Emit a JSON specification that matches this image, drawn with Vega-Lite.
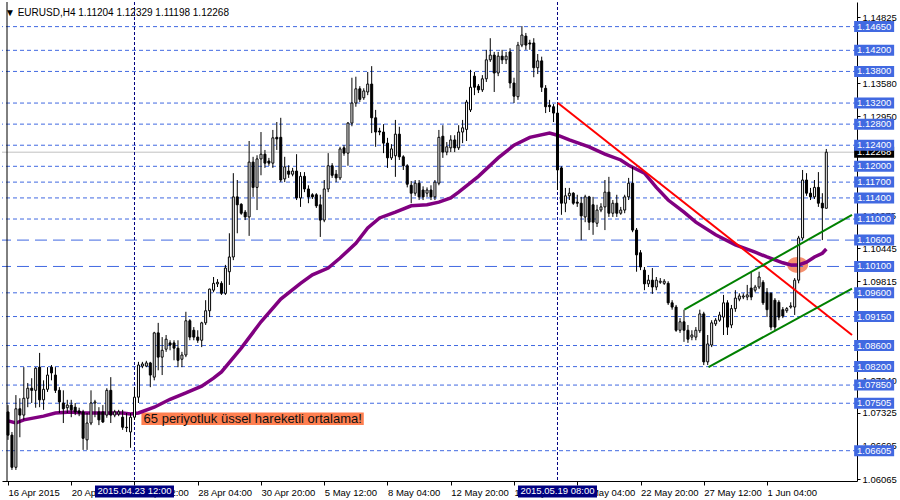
{
"$schema": "https://vega.github.io/schema/vega-lite/v6.json",
"width": 855, "height": 479,
"autosize": "none",
"padding": {"left": 2, "top": 2, "right": 43, "bottom": 19},
"background": "#ffffff",
"config": {"view": {"stroke": null}, "font": "Liberation Sans"},
"title": {"text": "▼   EURUSD,H4  1.11204 1.12329 1.11198 1.12268", "anchor": "start", "frame": "group", "orient": "top", "offset": -14, "dx": 3, "dy": 12, "baseline": "bottom", "font": "Liberation Sans", "fontSize": 10, "fontWeight": "normal", "color": "#000"},
"datasets": {
"candles": [
{"i":0,"o":1.0734,"h":1.0747,"l":1.0681,"c":1.0690},
{"i":1,"o":1.0690,"h":1.0696,"l":1.0624,"c":1.0629},
{"i":2,"o":1.0629,"h":1.0766,"l":1.0624,"c":1.0740},
{"i":3,"o":1.0740,"h":1.0760,"l":1.0686,"c":1.0728},
{"i":4,"o":1.0728,"h":1.0819,"l":1.0719,"c":1.0760},
{"i":5,"o":1.0760,"h":1.0789,"l":1.0743,"c":1.0779},
{"i":6,"o":1.0779,"h":1.0798,"l":1.0751,"c":1.0775},
{"i":7,"o":1.0775,"h":1.0819,"l":1.0742,"c":1.0817},
{"i":8,"o":1.0819,"h":1.0846,"l":1.0743,"c":1.0757},
{"i":9,"o":1.0757,"h":1.0794,"l":1.0738,"c":1.0777},
{"i":10,"o":1.0777,"h":1.0819,"l":1.0772,"c":1.0804},
{"i":11,"o":1.0819,"h":1.0823,"l":1.0794,"c":1.0808},
{"i":12,"o":1.0804,"h":1.0819,"l":1.0770,"c":1.0775},
{"i":13,"o":1.0775,"h":1.0781,"l":1.0732,"c":1.0753},
{"i":14,"o":1.0751,"h":1.0775,"l":1.0713,"c":1.0740},
{"i":15,"o":1.0742,"h":1.0757,"l":1.0732,"c":1.0747},
{"i":16,"o":1.0747,"h":1.0757,"l":1.0724,"c":1.0738},
{"i":17,"o":1.0743,"h":1.0751,"l":1.0728,"c":1.0734},
{"i":18,"o":1.0736,"h":1.0742,"l":1.0726,"c":1.0732},
{"i":19,"o":1.0734,"h":1.0738,"l":1.0662,"c":1.0684},
{"i":20,"o":1.0681,"h":1.0732,"l":1.0662,"c":1.0713},
{"i":21,"o":1.0713,"h":1.0775,"l":1.0709,"c":1.0751},
{"i":22,"o":1.0751,"h":1.0757,"l":1.0724,"c":1.0753},
{"i":23,"o":1.0734,"h":1.0743,"l":1.0709,"c":1.0719},
{"i":24,"o":1.0734,"h":1.0747,"l":1.0713,"c":1.0715},
{"i":25,"o":1.0728,"h":1.0779,"l":1.0723,"c":1.0775},
{"i":26,"o":1.0775,"h":1.0800,"l":1.0713,"c":1.0728},
{"i":27,"o":1.0728,"h":1.0738,"l":1.0724,"c":1.0734},
{"i":28,"o":1.0730,"h":1.0738,"l":1.0726,"c":1.0734},
{"i":29,"o":1.0724,"h":1.0738,"l":1.0700,"c":1.0705},
{"i":30,"o":1.0705,"h":1.0732,"l":1.0696,"c":1.0704},
{"i":31,"o":1.0696,"h":1.0732,"l":1.0666,"c":1.0724},
{"i":32,"o":1.0724,"h":1.0781,"l":1.0719,"c":1.0762},
{"i":33,"o":1.0762,"h":1.0829,"l":1.0751,"c":1.0823},
{"i":34,"o":1.0821,"h":1.0829,"l":1.0817,"c":1.0825},
{"i":35,"o":1.0821,"h":1.0831,"l":1.0819,"c":1.0827},
{"i":36,"o":1.0827,"h":1.0829,"l":1.0781,"c":1.0804},
{"i":37,"o":1.0800,"h":1.0886,"l":1.0794,"c":1.0884},
{"i":38,"o":1.0884,"h":1.0903,"l":1.0813,"c":1.0838},
{"i":39,"o":1.0838,"h":1.0876,"l":1.0804,"c":1.0851},
{"i":40,"o":1.0853,"h":1.0880,"l":1.0848,"c":1.0872},
{"i":41,"o":1.0865,"h":1.0870,"l":1.0851,"c":1.0861},
{"i":42,"o":1.0865,"h":1.0870,"l":1.0832,"c":1.0855},
{"i":43,"o":1.0855,"h":1.0870,"l":1.0819,"c":1.0832},
{"i":44,"o":1.0834,"h":1.0848,"l":1.0819,"c":1.0842},
{"i":45,"o":1.0842,"h":1.0924,"l":1.0838,"c":1.0907},
{"i":46,"o":1.0907,"h":1.0910,"l":1.0870,"c":1.0876},
{"i":47,"o":1.0889,"h":1.0895,"l":1.0870,"c":1.0876},
{"i":48,"o":1.0876,"h":1.0889,"l":1.0865,"c":1.0870},
{"i":49,"o":1.0870,"h":1.0905,"l":1.0857,"c":1.0903},
{"i":50,"o":1.0903,"h":1.0946,"l":1.0899,"c":1.0926},
{"i":51,"o":1.0926,"h":1.0968,"l":1.0914,"c":1.0967},
{"i":52,"o":1.0965,"h":1.0990,"l":1.0961,"c":1.0978},
{"i":53,"o":1.0977,"h":1.0986,"l":1.0971,"c":1.0980},
{"i":54,"o":1.0978,"h":1.0982,"l":1.0956,"c":1.0959},
{"i":55,"o":1.0959,"h":1.1013,"l":1.0956,"c":1.1007},
{"i":56,"o":1.1000,"h":1.1073,"l":1.0975,"c":1.1028},
{"i":57,"o":1.1028,"h":1.1187,"l":1.1022,"c":1.1142},
{"i":58,"o":1.1142,"h":1.1174,"l":1.1073,"c":1.1127},
{"i":59,"o":1.1128,"h":1.1130,"l":1.1108,"c":1.1111},
{"i":60,"o":1.1113,"h":1.1117,"l":1.1098,"c":1.1104},
{"i":61,"o":1.1104,"h":1.1248,"l":1.1068,"c":1.1208},
{"i":62,"o":1.1208,"h":1.1218,"l":1.1142,"c":1.1160},
{"i":63,"o":1.1160,"h":1.1221,"l":1.1117,"c":1.1214},
{"i":64,"o":1.1214,"h":1.1265,"l":1.1183,"c":1.1223},
{"i":65,"o":1.1223,"h":1.1231,"l":1.1197,"c":1.1206},
{"i":66,"o":1.1210,"h":1.1216,"l":1.1201,"c":1.1206},
{"i":67,"o":1.1206,"h":1.1269,"l":1.1197,"c":1.1254},
{"i":68,"o":1.1255,"h":1.1284,"l":1.1231,"c":1.1252},
{"i":69,"o":1.1255,"h":1.1292,"l":1.1170,"c":1.1174},
{"i":70,"o":1.1176,"h":1.1218,"l":1.1170,"c":1.1199},
{"i":71,"o":1.1191,"h":1.1202,"l":1.1178,"c":1.1185},
{"i":72,"o":1.1185,"h":1.1197,"l":1.1181,"c":1.1191},
{"i":73,"o":1.1191,"h":1.1223,"l":1.1136,"c":1.1140},
{"i":74,"o":1.1140,"h":1.1189,"l":1.1123,"c":1.1181},
{"i":75,"o":1.1181,"h":1.1189,"l":1.1151,"c":1.1157},
{"i":76,"o":1.1157,"h":1.1164,"l":1.1130,"c":1.1142},
{"i":77,"o":1.1146,"h":1.1149,"l":1.1138,"c":1.1142},
{"i":78,"o":1.1146,"h":1.1149,"l":1.1121,"c":1.1125},
{"i":79,"o":1.1127,"h":1.1146,"l":1.1066,"c":1.1098},
{"i":80,"o":1.1098,"h":1.1174,"l":1.1094,"c":1.1157},
{"i":81,"o":1.1157,"h":1.1225,"l":1.1151,"c":1.1201},
{"i":82,"o":1.1201,"h":1.1206,"l":1.1178,"c":1.1183},
{"i":83,"o":1.1185,"h":1.1193,"l":1.1170,"c":1.1178},
{"i":84,"o":1.1178,"h":1.1237,"l":1.1174,"c":1.1233},
{"i":85,"o":1.1235,"h":1.1240,"l":1.1220,"c":1.1225},
{"i":86,"o":1.1225,"h":1.1284,"l":1.1201,"c":1.1282},
{"i":87,"o":1.1282,"h":1.1368,"l":1.1276,"c":1.1320},
{"i":88,"o":1.1320,"h":1.1370,"l":1.1313,"c":1.1347},
{"i":89,"o":1.1347,"h":1.1352,"l":1.1322,"c":1.1327},
{"i":90,"o":1.1330,"h":1.1348,"l":1.1326,"c":1.1343},
{"i":91,"o":1.1341,"h":1.1379,"l":1.1335,"c":1.1356},
{"i":92,"o":1.1356,"h":1.1390,"l":1.1263,"c":1.1292},
{"i":93,"o":1.1292,"h":1.1307,"l":1.1237,"c":1.1265},
{"i":94,"o":1.1267,"h":1.1273,"l":1.1259,"c":1.1265},
{"i":95,"o":1.1265,"h":1.1280,"l":1.1225,"c":1.1244},
{"i":96,"o":1.1244,"h":1.1254,"l":1.1197,"c":1.1216},
{"i":97,"o":1.1216,"h":1.1242,"l":1.1212,"c":1.1233},
{"i":98,"o":1.1220,"h":1.1288,"l":1.1180,"c":1.1261},
{"i":99,"o":1.1261,"h":1.1275,"l":1.1212,"c":1.1218},
{"i":100,"o":1.1218,"h":1.1221,"l":1.1193,"c":1.1201},
{"i":101,"o":1.1201,"h":1.1204,"l":1.1160,"c":1.1166},
{"i":102,"o":1.1164,"h":1.1172,"l":1.1130,"c":1.1149},
{"i":103,"o":1.1149,"h":1.1174,"l":1.1144,"c":1.1168},
{"i":104,"o":1.1168,"h":1.1174,"l":1.1136,"c":1.1142},
{"i":105,"o":1.1155,"h":1.1162,"l":1.1136,"c":1.1142},
{"i":106,"o":1.1149,"h":1.1160,"l":1.1142,"c":1.1155},
{"i":107,"o":1.1155,"h":1.1164,"l":1.1136,"c":1.1142},
{"i":108,"o":1.1142,"h":1.1174,"l":1.1136,"c":1.1170},
{"i":109,"o":1.1168,"h":1.1269,"l":1.1164,"c":1.1255},
{"i":110,"o":1.1257,"h":1.1278,"l":1.1216,"c":1.1227},
{"i":111,"o":1.1227,"h":1.1246,"l":1.1221,"c":1.1237},
{"i":112,"o":1.1235,"h":1.1259,"l":1.1227,"c":1.1250},
{"i":113,"o":1.1250,"h":1.1259,"l":1.1227,"c":1.1235},
{"i":114,"o":1.1235,"h":1.1278,"l":1.1231,"c":1.1265},
{"i":115,"o":1.1265,"h":1.1288,"l":1.1244,"c":1.1273},
{"i":116,"o":1.1270,"h":1.1326,"l":1.1248,"c":1.1322},
{"i":117,"o":1.1307,"h":1.1383,"l":1.1303,"c":1.1350},
{"i":118,"o":1.1371,"h":1.1379,"l":1.1335,"c":1.1350},
{"i":119,"o":1.1352,"h":1.1356,"l":1.1339,"c":1.1345},
{"i":120,"o":1.1345,"h":1.1373,"l":1.1341,"c":1.1366},
{"i":121,"o":1.1366,"h":1.1421,"l":1.1360,"c":1.1402},
{"i":122,"o":1.1402,"h":1.1443,"l":1.1398,"c":1.1411},
{"i":123,"o":1.1411,"h":1.1417,"l":1.1341,"c":1.1377},
{"i":124,"o":1.1377,"h":1.1417,"l":1.1371,"c":1.1409},
{"i":125,"o":1.1409,"h":1.1421,"l":1.1394,"c":1.1402},
{"i":126,"o":1.1402,"h":1.1417,"l":1.1394,"c":1.1409},
{"i":127,"o":1.1417,"h":1.1424,"l":1.1348,"c":1.1358},
{"i":128,"o":1.1358,"h":1.1368,"l":1.1320,"c":1.1333},
{"i":129,"o":1.1332,"h":1.1436,"l":1.1326,"c":1.1430},
{"i":130,"o":1.1430,"h":1.1466,"l":1.1426,"c":1.1449},
{"i":131,"o":1.1447,"h":1.1453,"l":1.1421,"c":1.1430},
{"i":132,"o":1.1434,"h":1.1440,"l":1.1421,"c":1.1432},
{"i":133,"o":1.1434,"h":1.1443,"l":1.1369,"c":1.1387},
{"i":134,"o":1.1387,"h":1.1413,"l":1.1375,"c":1.1400},
{"i":135,"o":1.1400,"h":1.1408,"l":1.1341,"c":1.1350},
{"i":136,"o":1.1348,"h":1.1354,"l":1.1301,"c":1.1313},
{"i":137,"o":1.1316,"h":1.1326,"l":1.1303,"c":1.1313},
{"i":138,"o":1.1313,"h":1.1318,"l":1.1284,"c":1.1301},
{"i":139,"o":1.1301,"h":1.1320,"l":1.1155,"c":1.1193},
{"i":140,"o":1.1197,"h":1.1200,"l":1.1108,"c":1.1130},
{"i":141,"o":1.1130,"h":1.1159,"l":1.1113,"c":1.1144},
{"i":142,"o":1.1144,"h":1.1159,"l":1.1136,"c":1.1149},
{"i":143,"o":1.1149,"h":1.1151,"l":1.1127,"c":1.1130},
{"i":144,"o":1.1132,"h":1.1146,"l":1.1123,"c":1.1130},
{"i":145,"o":1.1130,"h":1.1142,"l":1.1060,"c":1.1106},
{"i":146,"o":1.1104,"h":1.1146,"l":1.1094,"c":1.1142},
{"i":147,"o":1.1142,"h":1.1144,"l":1.1079,"c":1.1094},
{"i":148,"o":1.1127,"h":1.1142,"l":1.1070,"c":1.1094},
{"i":149,"o":1.1092,"h":1.1127,"l":1.1085,"c":1.1117},
{"i":150,"o":1.1117,"h":1.1130,"l":1.1113,"c":1.1123},
{"i":151,"o":1.1123,"h":1.1174,"l":1.1079,"c":1.1151},
{"i":152,"o":1.1151,"h":1.1180,"l":1.1104,"c":1.1111},
{"i":153,"o":1.1111,"h":1.1136,"l":1.1104,"c":1.1130},
{"i":154,"o":1.1130,"h":1.1146,"l":1.1104,"c":1.1111},
{"i":155,"o":1.1111,"h":1.1123,"l":1.1108,"c":1.1117},
{"i":156,"o":1.1117,"h":1.1146,"l":1.1111,"c":1.1142},
{"i":157,"o":1.1142,"h":1.1178,"l":1.1136,"c":1.1168},
{"i":158,"o":1.1168,"h":1.1199,"l":1.1075,"c":1.1079},
{"i":159,"o":1.1079,"h":1.1083,"l":1.1000,"c":1.1032},
{"i":160,"o":1.1036,"h":1.1041,"l":1.1003,"c":1.1009},
{"i":161,"o":1.1003,"h":1.1009,"l":1.0965,"c":1.0977},
{"i":162,"o":1.0977,"h":1.0994,"l":1.0971,"c":1.0984},
{"i":163,"o":1.0984,"h":1.1007,"l":1.0958,"c":1.0971},
{"i":164,"o":1.0971,"h":1.0990,"l":1.0965,"c":1.0984},
{"i":165,"o":1.0980,"h":1.0988,"l":1.0977,"c":1.0982},
{"i":166,"o":1.0978,"h":1.0986,"l":1.0975,"c":1.0982},
{"i":167,"o":1.0978,"h":1.0982,"l":1.0937,"c":1.0941},
{"i":168,"o":1.0941,"h":1.0946,"l":1.0928,"c":1.0933},
{"i":169,"o":1.0933,"h":1.0937,"l":1.0886,"c":1.0889},
{"i":170,"o":1.0889,"h":1.0912,"l":1.0884,"c":1.0905},
{"i":171,"o":1.0905,"h":1.0928,"l":1.0867,"c":1.0889},
{"i":172,"o":1.0889,"h":1.0899,"l":1.0865,"c":1.0872},
{"i":173,"o":1.0876,"h":1.0889,"l":1.0870,"c":1.0880},
{"i":174,"o":1.0876,"h":1.0895,"l":1.0870,"c":1.0889},
{"i":175,"o":1.0888,"h":1.0928,"l":1.0884,"c":1.0920},
{"i":176,"o":1.0920,"h":1.0924,"l":1.0823,"c":1.0829},
{"i":177,"o":1.0829,"h":1.0880,"l":1.0823,"c":1.0863},
{"i":178,"o":1.0861,"h":1.0908,"l":1.0857,"c":1.0903},
{"i":179,"o":1.0901,"h":1.0912,"l":1.0897,"c":1.0908},
{"i":180,"o":1.0908,"h":1.0924,"l":1.0905,"c":1.0918},
{"i":181,"o":1.0914,"h":1.0956,"l":1.0880,"c":1.0941},
{"i":182,"o":1.0941,"h":1.0946,"l":1.0880,"c":1.0895},
{"i":183,"o":1.0899,"h":1.0937,"l":1.0893,"c":1.0930},
{"i":184,"o":1.0930,"h":1.0965,"l":1.0924,"c":1.0950},
{"i":185,"o":1.0948,"h":1.0959,"l":1.0944,"c":1.0954},
{"i":186,"o":1.0952,"h":1.0959,"l":1.0948,"c":1.0954},
{"i":187,"o":1.0952,"h":1.0975,"l":1.0946,"c":1.0956},
{"i":188,"o":1.0969,"h":1.1000,"l":1.0946,"c":1.0952},
{"i":189,"o":1.0965,"h":1.0975,"l":1.0961,"c":1.0971},
{"i":190,"o":1.0971,"h":1.1000,"l":1.0967,"c":1.0990},
{"i":191,"o":1.0980,"h":1.0984,"l":1.0937,"c":1.0941},
{"i":192,"o":1.0961,"h":1.0969,"l":1.0914,"c":1.0928},
{"i":193,"o":1.0959,"h":1.0961,"l":1.0889,"c":1.0895},
{"i":194,"o":1.0946,"h":1.0950,"l":1.0889,"c":1.0895},
{"i":195,"o":1.0942,"h":1.0946,"l":1.0908,"c":1.0914},
{"i":196,"o":1.0928,"h":1.0933,"l":1.0912,"c":1.0916},
{"i":197,"o":1.0926,"h":1.0933,"l":1.0922,"c":1.0930},
{"i":198,"o":1.0933,"h":1.0942,"l":1.0930,"c":1.0935},
{"i":199,"o":1.0933,"h":1.0988,"l":1.0918,"c":1.0984},
{"i":200,"o":1.0984,"h":1.1068,"l":1.0978,"c":1.1064},
{"i":201,"o":1.1064,"h":1.1193,"l":1.1060,"c":1.1174},
{"i":202,"o":1.1174,"h":1.1187,"l":1.1144,"c":1.1149},
{"i":203,"o":1.1149,"h":1.1159,"l":1.1136,"c":1.1142},
{"i":204,"o":1.1142,"h":1.1174,"l":1.1138,"c":1.1160},
{"i":205,"o":1.1160,"h":1.1189,"l":1.1123,"c":1.1130},
{"i":206,"o":1.1130,"h":1.1149,"l":1.1060,"c":1.1121},
{"i":207,"o":1.11204,"h":1.12329,"l":1.11198,"c":1.12268}
],
"ema": [
{"i":0,"v":1.0717},{"i":2,"v":1.0713},{"i":4,"v":1.0719},{"i":9,"v":1.0726},{"i":12,"v":1.0732},{"i":16,"v":1.0734},{"i":19,"v":1.0732},{"i":24,"v":1.0732},{"i":29,"v":1.0732},{"i":31,"v":1.0730},{"i":33,"v":1.0732},{"i":37,"v":1.0743},{"i":41,"v":1.0758},{"i":45,"v":1.0770},{"i":49,"v":1.0783},{"i":52,"v":1.0798},{"i":54,"v":1.0810},{"i":59,"v":1.0855},{"i":64,"v":1.0905},{"i":69,"v":1.0948},{"i":74,"v":1.0978},{"i":77,"v":1.0994},{"i":81,"v":1.1007},{"i":84,"v":1.1026},{"i":88,"v":1.1054},{"i":91,"v":1.1083},{"i":94,"v":1.1102},{"i":98,"v":1.1113},{"i":102,"v":1.1125},{"i":106,"v":1.1127},{"i":109,"v":1.1132},{"i":112,"v":1.1140},{"i":114,"v":1.1151},{"i":119,"v":1.1181},{"i":124,"v":1.1216},{"i":128,"v":1.1240},{"i":132,"v":1.1255},{"i":137,"v":1.1263},{"i":139,"v":1.1259},{"i":142,"v":1.1250},{"i":147,"v":1.1237},{"i":151,"v":1.1223},{"i":155,"v":1.1212},{"i":157,"v":1.1202},{"i":161,"v":1.1187},{"i":164,"v":1.1160},{"i":167,"v":1.1136},{"i":171,"v":1.1113},{"i":174,"v":1.1094},{"i":179,"v":1.1070},{"i":184,"v":1.1051},{"i":189,"v":1.1037},{"i":192,"v":1.1028},{"i":196,"v":1.1017},{"i":198,"v":1.1013},{"i":200,"v":1.1013},{"i":202,"v":1.1018},{"i":204,"v":1.1028},{"i":206,"v":1.1035},{"i":207,"v":1.1043}
],
"levels": [
{"p":1.1465},{"p":1.142},{"p":1.138},{"p":1.132},{"p":1.128},{"p":1.124},{"p":1.12},{"p":1.117},{"p":1.114},{"p":1.11},{"p":1.106},{"p":1.101},{"p":1.096},{"p":1.0915},{"p":1.086},{"p":1.082},{"p":1.0785},{"p":1.07505},{"p":1.06605}
],
"trend": [
{"name":"red","i":139.1,"p":1.1320},{"name":"red","i":213.5,"p":1.0880},
{"name":"gu","i":171.1,"p":1.0928},{"name":"gu","i":213.5,"p":1.1108},
{"name":"gl","i":177.2,"p":1.0819},{"name":"gl","i":213.5,"p":1.0968}
],
"cross": [
{"i":32,"label":"2015.04.23 12:00"},{"i":139,"label":"2015.05.19 08:00"}
]
},
"layer": [
{
"data": {"values": [{"k": 1}]},
"mark": {"type": "point", "shape": "M -1 0 A 1 0.75 0 1 1 1 0 A 1 0.75 0 1 1 -1 0 Z", "size": 441, "filled": true, "color": "#f4845f", "opacity": 0.9, "strokeWidth": 0},
"encoding": {
"x": {"datum": 199.75, "type": "quantitative", "scale": {"domain": [-0.25, 213.5], "nice": false, "zero": false}},
"y": {"datum": 1.10128, "type": "quantitative", "scale": {"domain": [1.0603, 1.15117], "nice": false, "zero": false}}
}
},
{
"data": {"name": "levels"},
"transform": [{"filter": "datum.p != 1.106 && datum.p != 1.101"}],
"mark": {"type": "rule", "color": "#4169e1", "strokeWidth": 1, "strokeDash": [4, 3]},
"encoding": {"y": {"field": "p", "type": "quantitative", "title": null}}
},
{
"data": {"name": "levels"},
"transform": [{"filter": "datum.p == 1.106 || datum.p == 1.101"}],
"mark": {"type": "rule", "color": "#4169e1", "strokeWidth": 1, "strokeDash": [12, 6]},
"encoding": {"y": {"field": "p", "type": "quantitative", "title": null}}
},
{
"data": {"values": [{"k": 1}]},
"mark": {"type": "rule", "color": "#c0c0c0", "strokeWidth": 1},
"encoding": {"y": {"datum": 1.12268, "type": "quantitative"}}
},
{
"data": {"name": "cross"},
"mark": {"type": "rule", "color": "#000080", "strokeWidth": 1, "strokeDash": [3, 2]},
"encoding": {"x": {"field": "i", "type": "quantitative", "title": null}}
},
{
"data": {"values": [{"k": 1}]},
"mark": {"type": "rule", "color": "#000000", "strokeWidth": 1},
"encoding": {"x": {"datum": -0.25, "type": "quantitative"}}
},
{
"data": {"values": [{"k": 1}]},
"mark": {"type": "rect", "color": "#ff7f50"},
"encoding": {
"x": {"datum": 33.75, "type": "quantitative"},
"x2": {"datum": 90},
"y": {"datum": 1.0733, "type": "quantitative"},
"y2": {"datum": 1.0709}
}
},
{
"data": {"values": [{"t": "65 periyotluk üssel hareketli ortalama!"}]},
"mark": {"type": "text", "align": "left", "baseline": "middle", "font": "Liberation Sans", "fontSize": 13, "color": "#111111"},
"encoding": {
"x": {"datum": 34.3, "type": "quantitative"},
"y": {"datum": 1.0721, "type": "quantitative"},
"text": {"field": "t"}
}
},
{
"data": {"name": "ema"},
"mark": {"type": "line", "color": "#800080", "strokeWidth": 3.5},
"encoding": {
"x": {"field": "i", "type": "quantitative", "title": null},
"y": {"field": "v", "type": "quantitative", "title": null}
}
},
{
"data": {"name": "candles"},
"mark": {"type": "rule", "color": "#000000", "strokeWidth": 1},
"encoding": {
"x": {"field": "i", "type": "quantitative", "title": null, "axis": {"orient": "bottom", "title": null, "values": [0,16,32,48,64,80,96,112,128,144,160,176,192], "labelExpr": "['16 Apr 2015','20 Apr 20:00','23 Apr 12:00','28 Apr 04:00','30 Apr 20:00','5 May 12:00','8 May 04:00','12 May 20:00','15 May 12:00','20 May 04:00','22 May 20:00','27 May 12:00','1 Jun 04:00'][datum.value/16]", "labelAlign": "left", "labelFont": "Liberation Sans", "labelFontSize": 9.5, "labelColor": "#000000", "tickColor": "#000000", "domainColor": "#000000", "tickSize": 4, "labelPadding": 2, "grid": false, "labelOverlap": false, "labelFlush": false, "labelBound": false}},
"y": {"field": "l", "type": "quantitative", "title": null, "axis": {"orient": "right", "title": null, "values": [1.14825, 1.1358, 1.1295, 1.11075, 1.10445, 1.09815, 1.0794, 1.07325, 1.06695, 1.06065], "format": ".5f", "labelFont": "Liberation Sans", "labelFontSize": 9.5, "labelColor": "#000000", "tickColor": "#000000", "domainColor": "#000000", "tickSize": 3, "labelPadding": 2, "grid": false, "labelOverlap": false, "labelFlush": false}},
"y2": {"field": "h"}
}
},
{
"data": {"name": "candles"},
"mark": {"type": "bar", "width": 2, "stroke": "#000000", "strokeWidth": 1},
"encoding": {
"x": {"field": "i", "type": "quantitative", "title": null},
"y": {"field": "o", "type": "quantitative", "title": null},
"y2": {"field": "c"},
"fill": {"condition": {"test": "datum.c < datum.o", "value": "#000000"}, "value": "#ffffff"}
}
},
{
"data": {"name": "trend"},
"mark": {"type": "line", "strokeWidth": 2, "clip": true},
"encoding": {
"x": {"field": "i", "type": "quantitative", "title": null},
"y": {"field": "p", "type": "quantitative", "title": null},
"detail": {"field": "name"},
"color": {"field": "name", "type": "nominal", "scale": {"domain": ["red", "gu", "gl"], "range": ["#ff0000", "#008000", "#008000"]}, "legend": null}
}
},
{
"data": {"values": [{"p": 1.12268}]},
"mark": {"type": "tick", "orient": "vertical", "size": 11, "thickness": 40, "color": "#000000", "opacity": 1},
"encoding": {
"x": {"datum": 219.1, "type": "quantitative"},
"y": {"field": "p", "type": "quantitative", "title": null}
}
},
{
"data": {"values": [{"p": 1.12268}]},
"mark": {"type": "text", "align": "center", "baseline": "middle", "font": "Liberation Sans", "fontSize": 9.5, "color": "#ffffff"},
"encoding": {
"x": {"datum": 219.1, "type": "quantitative"},
"y": {"field": "p", "type": "quantitative", "title": null},
"text": {"field": "p", "format": ".5f"}
}
},
{
"data": {"name": "levels"},
"mark": {"type": "tick", "orient": "vertical", "size": 11, "thickness": 40, "color": "#4169e1", "opacity": 1},
"encoding": {
"x": {"datum": 219.1, "type": "quantitative"},
"y": {"field": "p", "type": "quantitative", "title": null}
}
},
{
"data": {"name": "levels"},
"mark": {"type": "text", "align": "center", "baseline": "middle", "font": "Liberation Sans", "fontSize": 9.5, "color": "#ffffff"},
"encoding": {
"x": {"datum": 219.1, "type": "quantitative"},
"y": {"field": "p", "type": "quantitative", "title": null},
"text": {"field": "p", "format": ".5f"}
}
},
{
"data": {"name": "cross"},
"mark": {"type": "tick", "orient": "vertical", "size": 12, "thickness": 79, "color": "#000080", "opacity": 1},
"encoding": {
"x": {"field": "i", "type": "quantitative", "title": null},
"y": {"datum": 1.05831, "type": "quantitative"}
}
},
{
"data": {"name": "cross"},
"mark": {"type": "text", "align": "center", "baseline": "middle", "font": "Liberation Sans", "fontSize": 9.5, "color": "#ffffff"},
"encoding": {
"x": {"field": "i", "type": "quantitative", "title": null},
"y": {"datum": 1.05831, "type": "quantitative"},
"text": {"field": "label"}
}
}
]
}
